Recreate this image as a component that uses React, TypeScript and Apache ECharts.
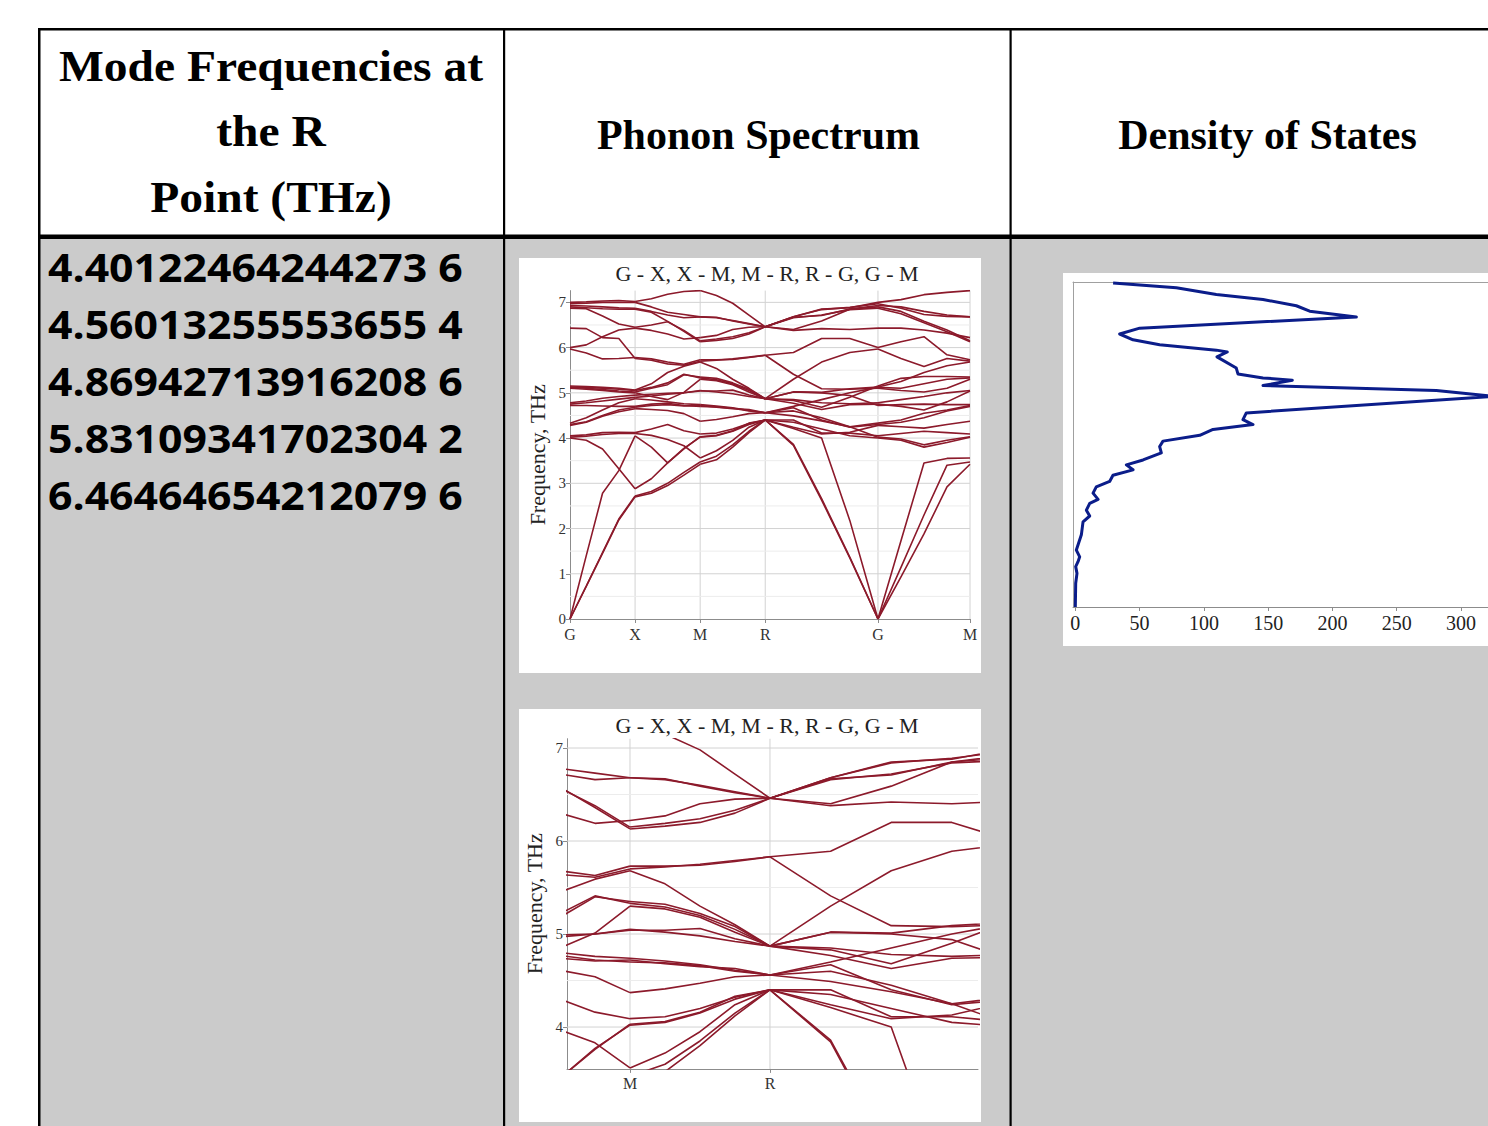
import React, { useEffect, useRef } from "react";
import * as echarts from "echarts";

// ---------- table texts ----------
const HEADER_COL1 = ["Mode Frequencies at", "the R", "Point (THz)"];
const HEADER_COL2 = "Phonon Spectrum";
const HEADER_COL3 = "Density of States";
const MODE_FREQS = ["4.40122464244273", "4.56013255553655", "4.86942713916208", "5.83109341702304", "6.46464654212079"];
const MODE_DEGEN = [6, 4, 6, 2, 6];
const PATH_TITLE = "G - X, X - M, M - R, R - G, G - M";

// ---------- k-path (2π/a units) ----------
const KX = [0, 0.125, 0.25, 0.375, 0.5, 0.625, 0.75, 0.875, 1.0, 1.125, 1.25, 1.375, 1.5, 1.7165, 1.933, 2.1495, 2.366, 2.5428, 2.7196, 2.8963, 3.0731];
const SYM_IDX = [0, 4, 8, 12, 16, 20];
const SYM_LABELS = ["G", "X", "M", "R", "G", "M"];

// ---------- phonon bands, per path segment (THz), 5 k-points each ----------
const GX_BANDS = [
  [0, 0.72, 1.45, 2.19, 2.7], [0, 0.73, 1.47, 2.21, 2.72], [0, 1.4, 2.78, 3.28, 4.05], [4.0, 3.95, 3.76, 3.32, 2.88],
  [4.02, 4.04, 4.08, 4.1, 4.1], [4.05, 4.07, 4.12, 4.13, 4.12], [4.28, 4.35, 4.48, 4.58, 4.65], [4.3, 4.36, 4.5, 4.62, 4.68],
  [4.33, 4.45, 4.62, 4.78, 4.87], [4.72, 4.72, 4.71, 4.7, 4.7], [4.75, 4.78, 4.82, 4.86, 4.9], [4.78, 4.82, 4.88, 4.92, 4.95],
  [5.1, 5.08, 5.05, 5.02, 5.0], [5.12, 5.1, 5.07, 5.04, 5.02], [5.13, 5.12, 5.1, 5.08, 5.05], [5.15, 5.14, 5.12, 5.1, 5.06],
  [5.97, 5.88, 5.75, 5.76, 5.78], [6.0, 6.06, 6.24, 6.39, 6.43], [6.43, 6.42, 6.22, 6.2, 5.76], [6.87, 6.86, 6.7, 6.52, 6.45],
  [6.9, 6.88, 6.86, 6.85, 6.85], [6.93, 6.92, 6.9, 6.88, 6.87], [6.97, 6.98, 7.0, 7.0, 7.0], [7.0, 7.01, 7.03, 7.04, 7.02],
];
const XM_BANDS = [
  [7.02, 7.08, 7.18, 7.24, 7.26], [7.0, 6.9, 6.78, 6.73, 6.68], [6.87, 6.8, 6.72, 6.66, 6.68], [6.85, 6.78, 6.58, 6.36, 6.13],
  [6.45, 6.5, 6.57, 6.38, 6.15], [6.43, 6.38, 6.3, 6.19, 6.22], [5.78, 5.75, 5.68, 5.63, 5.73], [5.76, 5.72, 5.64, 5.61, 5.7],
  [5.06, 5.2, 5.45, 5.59, 5.68], [5.05, 5.12, 5.22, 5.41, 5.33], [5.02, 5.1, 5.18, 5.4, 5.35], [5.0, 4.92, 4.85, 5.01, 5.3],
  [4.95, 4.97, 4.99, 5.0, 5.04], [4.9, 4.93, 4.97, 5.0, 5.05], [4.87, 4.84, 4.8, 4.76, 4.74], [4.7, 4.75, 4.77, 4.72, 4.7],
  [4.68, 4.72, 4.74, 4.71, 4.72], [4.65, 4.63, 4.61, 4.54, 4.37], [4.12, 4.2, 4.3, 4.16, 4.09], [4.1, 4.06, 3.97, 3.83, 3.56],
  [4.05, 3.8, 3.45, 3.76, 4.03], [2.88, 3.1, 3.45, 3.77, 4.02], [2.72, 2.82, 3.0, 3.24, 3.47], [2.7, 2.78, 2.95, 3.18, 3.42],
];
const MR_BANDS = [
  [7.26, 7.15, 6.98, 6.72, 6.46], [6.68, 6.67, 6.59, 6.52, 6.46], [6.68, 6.66, 6.6, 6.53, 6.46], [6.13, 6.16, 6.2, 6.3, 6.46],
  [6.15, 6.19, 6.24, 6.33, 6.46], [6.22, 6.27, 6.4, 6.45, 6.46], [5.73, 5.73, 5.74, 5.78, 5.83], [5.7, 5.72, 5.75, 5.79, 5.83],
  [5.68, 5.54, 5.3, 5.1, 4.87], [5.33, 5.29, 5.2, 5.05, 4.87], [5.35, 5.32, 5.22, 5.08, 4.87], [5.3, 5.27, 5.18, 5.02, 4.87],
  [5.04, 5.04, 5.06, 4.95, 4.87], [5.05, 5.02, 4.98, 4.92, 4.87], [4.74, 4.71, 4.67, 4.61, 4.56], [4.7, 4.69, 4.66, 4.6, 4.56],
  [4.72, 4.68, 4.65, 4.63, 4.56], [4.37, 4.41, 4.47, 4.54, 4.56], [4.09, 4.11, 4.2, 4.32, 4.4], [3.56, 3.72, 3.95, 4.24, 4.4],
  [4.03, 4.06, 4.16, 4.33, 4.4], [4.02, 4.05, 4.15, 4.3, 4.4], [3.47, 3.6, 3.85, 4.15, 4.4], [3.42, 3.52, 3.8, 4.12, 4.4],
];
const RG_BANDS = [
  [6.46, 6.68, 6.85, 6.88, 7.0], [6.46, 6.67, 6.71, 6.85, 6.93], [6.46, 6.4, 6.59, 6.85, 6.9], [6.46, 6.38, 6.42, 6.4, 6.43],
  [6.46, 6.68, 6.84, 6.89, 6.97], [6.46, 6.66, 6.72, 6.84, 6.87], [5.83, 5.89, 6.2, 6.2, 6.0], [5.83, 5.41, 5.09, 5.08, 5.1],
  [4.87, 5.3, 5.68, 5.89, 5.97], [4.87, 5.02, 5.01, 5.09, 5.13], [4.87, 4.83, 4.68, 4.9, 5.15], [4.87, 5.02, 5.0, 4.94, 4.72],
  [4.87, 4.77, 4.63, 4.74, 4.75], [4.87, 4.85, 4.78, 4.76, 4.78], [4.56, 4.67, 4.4, 4.24, 4.3], [4.56, 4.49, 4.38, 4.25, 4.33],
  [4.56, 4.6, 4.45, 4.25, 4.02], [4.56, 4.7, 4.85, 5.0, 5.12], [4.4, 4.4, 4.11, 4.11, 4.05], [4.4, 4.24, 4.09, 4.13, 4.28],
  [4.4, 4.21, 4.0, 2.18, 0], [4.4, 3.84, 2.63, 1.35, 0], [4.4, 3.86, 2.66, 1.37, 0], [4.4, 4.35, 4.2, 4.05, 4.0],
];
const GM_BANDS = [
  [7.0, 7.06, 7.17, 7.22, 7.26], [6.97, 6.87, 6.73, 6.69, 6.68], [6.93, 6.9, 6.8, 6.72, 6.68], [6.9, 6.8, 6.58, 6.39, 6.15],
  [6.87, 6.75, 6.55, 6.35, 6.13], [6.43, 6.43, 6.39, 6.32, 6.22], [6.0, 6.13, 6.24, 5.84, 5.73], [5.97, 5.76, 5.58, 5.76, 5.7],
  [5.15, 5.32, 5.36, 5.36, 5.35], [5.13, 5.25, 5.45, 5.6, 5.68], [5.12, 5.1, 5.2, 5.3, 5.33], [5.1, 5.05, 5.02, 5.1, 5.3],
  [4.78, 4.85, 4.92, 5.0, 5.05], [4.75, 4.7, 4.62, 4.8, 5.04], [4.72, 4.74, 4.75, 4.74, 4.74], [4.33, 4.4, 4.55, 4.62, 4.72],
  [4.3, 4.35, 4.45, 4.6, 4.7], [4.28, 4.25, 4.22, 4.3, 4.37], [4.05, 4.1, 4.15, 4.12, 4.09], [4.02, 3.98, 3.85, 3.95, 4.03],
  [4.0, 3.95, 3.8, 3.9, 4.02], [0, 1.73, 3.45, 3.55, 3.56], [0, 1.14, 2.3, 3.4, 3.47], [0, 0.93, 1.88, 2.92, 3.42],
];
const SEGMENTS = [GX_BANDS, XM_BANDS, MR_BANDS, RG_BANDS, GM_BANDS];

// ---------- axis ranges / ticks ----------
const FULL_Y_MAX = 7.26;
const FULL_Y_TICKS = [0, 1, 2, 3, 4, 5, 6, 7];
const FULL_Y_MINOR = [0.5, 1.5, 2.5, 3.5, 4.5, 5.5, 6.5];
const ZOOM_X_RANGE = [0.775, 2.243];
const ZOOM_Y_RANGE = [3.55, 7.1];
const ZOOM_Y_TICKS = [4, 5, 6, 7];
const ZOOM_Y_MINOR = [4.5, 5.5, 6.5];
const ZOOM_X_SYM = [1.0, 1.5];
const ZOOM_X_LABELS = ["M", "R"];

// ---------- density of states ----------
const DOS_STATES = [29.4, 78.6, 109.7, 146, 171.9, 182.3, 218.6, 50.1, 34.5, 44.9, 65.6, 109.7, 118.2, 110.2, 125.2, 126.5, 146, 168.8, 146, 280.8, 325, 133, 130.4, 138.2, 107.1, 96.8, 68.2, 65.6, 66.9, 52.7, 39.7, 44.9, 29.3, 26.7, 16.3, 13.8, 17.7, 11.2, 8.6, 11.2, 6.0, 4.7, 0.8, 3.4, 2.1, 0.3, 1.3, 0.3, 0];
const DOS_FREQ = [7.23, 7.12, 6.97, 6.86, 6.72, 6.6, 6.47, 6.22, 6.09, 5.96, 5.85, 5.73, 5.69, 5.58, 5.33, 5.2, 5.11, 5.06, 4.94, 4.83, 4.7, 4.33, 4.18, 4.07, 3.96, 3.83, 3.7, 3.58, 3.44, 3.28, 3.17, 3.06, 2.94, 2.8, 2.68, 2.54, 2.4, 2.31, 2.16, 2.03, 1.9, 1.61, 1.27, 1.12, 1.01, 0.9, 0.75, 0.53, 0];
const DOS_X_TICKS = [0, 50, 100, 150, 200, 250, 300];
const DOS_X_RANGE = [-1.8, 321];
const DOS_Y_MAX = 7.25;

// ---------- styles ----------
const SERIF = "Liberation Serif";
const BAND_COLOR = "#8c1a2b";
const DOS_COLOR = "#0b1d8a";
const AXIS_COLOR = "#8c8c8c";
const GRID_MAJOR = "#d2d2d2";
const GRID_MINOR = "#ececec";
const CELL_GRAY = "#cbcbcb";

function guide(axis: number, data: number[][], color: string) {
  return {
    type: "line", xAxisIndex: axis, yAxisIndex: axis, data, symbol: "none", silent: true, z: 1,
    lineStyle: { color, width: 1 }, emphasis: { disabled: true },
  };
}

function bandSeries(axis: number) {
  const out: any[] = [];
  SEGMENTS.forEach((seg, s) => {
    seg.forEach((row) => {
      out.push({
        type: "line", xAxisIndex: axis, yAxisIndex: axis,
        data: row.map((f, j) => [KX[s * 4 + j], f]),
        symbol: "none", silent: true, clip: true, z: 3,
        lineStyle: { color: BAND_COLOR, width: 1.6 }, emphasis: { disabled: true },
      });
    });
  });
  return out;
}

function buildOption() {
  const symX = SYM_IDX.map((i) => KX[i]);
  const xMax = KX[KX.length - 1];
  const labelOf = (vals: number[], names: string[]) => (v: number) => {
    const i = vals.findIndex((s) => Math.abs(s - v) < 1e-6);
    return i >= 0 ? names[i] : "";
  };

  const series: any[] = [];
  symX.slice(1).forEach((v) => series.push(guide(0, [[v, 0], [v, FULL_Y_MAX]], GRID_MAJOR)));
  FULL_Y_MINOR.forEach((v) => series.push(guide(0, [[0, v], [xMax, v]], GRID_MINOR)));
  FULL_Y_TICKS.slice(1).forEach((v) => series.push(guide(0, [[0, v], [xMax, v]], GRID_MAJOR)));
  ZOOM_X_SYM.forEach((v) => series.push(guide(1, [[v, ZOOM_Y_RANGE[0]], [v, ZOOM_Y_RANGE[1]]], GRID_MAJOR)));
  ZOOM_Y_MINOR.forEach((v) => series.push(guide(1, [[ZOOM_X_RANGE[0], v], [ZOOM_X_RANGE[1], v]], GRID_MINOR)));
  ZOOM_Y_TICKS.forEach((v) => series.push(guide(1, [[ZOOM_X_RANGE[0], v], [ZOOM_X_RANGE[1], v]], GRID_MAJOR)));
  series.push(...bandSeries(0), ...bandSeries(1));
  series.push({
    type: "line", xAxisIndex: 2, yAxisIndex: 2, symbol: "none", silent: true, z: 3, clip: true,
    data: DOS_STATES.map((d, i) => [d, DOS_FREQ[i]]),
    lineStyle: { color: DOS_COLOR, width: 3, join: "round" }, emphasis: { disabled: true },
  });

  const axisLine = { show: true, onZero: false, lineStyle: { color: AXIS_COLOR, width: 1 } };
  const tickStyle = { color: AXIS_COLOR, width: 1 };
  const yName = {
    name: "Frequency, THz", nameLocation: "middle", nameRotate: 90, nameGap: 22,
    nameTextStyle: { fontFamily: SERIF, fontSize: 22, color: "#222" },
  };

  const xAxis: any[] = [
    {
      gridIndex: 0, type: "value", min: 0, max: xMax, axisLine, splitLine: { show: false },
      axisTick: { show: true, customValues: symX, length: 4, lineStyle: tickStyle },
      axisLabel: { customValues: symX, formatter: labelOf(symX, SYM_LABELS), fontFamily: SERIF, fontSize: 16, color: "#333", margin: 7 },
    },
    {
      gridIndex: 1, type: "value", min: ZOOM_X_RANGE[0], max: ZOOM_X_RANGE[1], axisLine, splitLine: { show: false },
      axisTick: { show: true, customValues: ZOOM_X_SYM, length: 4, lineStyle: tickStyle },
      axisLabel: { customValues: ZOOM_X_SYM, formatter: labelOf(ZOOM_X_SYM, ZOOM_X_LABELS), fontFamily: SERIF, fontSize: 16, color: "#333", margin: 7 },
    },
    {
      gridIndex: 2, type: "value", min: DOS_X_RANGE[0], max: DOS_X_RANGE[1], axisLine, splitLine: { show: false },
      axisTick: { show: true, customValues: DOS_X_TICKS, length: 4, lineStyle: tickStyle },
      axisLabel: { customValues: DOS_X_TICKS, fontFamily: SERIF, fontSize: 20, color: "#222", margin: 6 },
    },
    {
      // top frame line of the DOS panel
      gridIndex: 2, type: "value", position: "top", min: DOS_X_RANGE[0], max: DOS_X_RANGE[1],
      axisLine: { show: true, onZero: false, lineStyle: { color: "#a0a0a0", width: 1 } },
      axisTick: { show: false }, axisLabel: { show: false }, splitLine: { show: false },
    },
  ];
  const yAxis: any[] = [
    {
      gridIndex: 0, type: "value", min: 0, max: FULL_Y_MAX, axisLine, splitLine: { show: false }, ...yName,
      axisTick: { show: true, customValues: FULL_Y_TICKS, length: 4, lineStyle: tickStyle },
      axisLabel: { customValues: FULL_Y_TICKS, fontFamily: SERIF, fontSize: 15, color: "#333", margin: 4 },
    },
    {
      gridIndex: 1, type: "value", min: ZOOM_Y_RANGE[0], max: ZOOM_Y_RANGE[1], axisLine, splitLine: { show: false }, ...yName,
      axisTick: { show: true, customValues: ZOOM_Y_TICKS, length: 4, lineStyle: tickStyle },
      axisLabel: { customValues: ZOOM_Y_TICKS, fontFamily: SERIF, fontSize: 15, color: "#333", margin: 4 },
    },
    {
      gridIndex: 2, type: "value", min: 0, max: DOS_Y_MAX, splitLine: { show: false },
      axisLine: { show: true, onZero: false, lineStyle: { color: "#a0a0a0", width: 1 } },
      axisTick: { show: false }, axisLabel: { show: false },
    },
  ];

  const grid = [
    { left: 570, top: 290.6, width: 400, height: 328.4 },
    { left: 567, top: 738.7, width: 411, height: 330.2 },
    { left: 1073, top: 282, width: 415, height: 325 },
  ];

  const rect = (x: number, y: number, w: number, h: number, fill: string, z: number) => ({
    type: "rect", shape: { x, y, width: w, height: h }, style: { fill }, z, silent: true,
  });
  const text = (t: string, x: number, y: number, font: string, align: string, scaleX = 1, fill = "#000") => ({
    type: "text", x, y, scaleX, z: 20, silent: true,
    style: { text: t, fill, font, align, verticalAlign: "middle", textAlign: align, textVerticalAlign: "middle" },
  });

  const elements: any[] = [
    rect(40, 238, 1448, 888, CELL_GRAY, -10),
    rect(519, 258, 462, 415, "#ffffff", -5),
    rect(519, 709, 462, 413, "#ffffff", -5),
    rect(1063, 273, 430, 373, "#ffffff", -5),
    rect(38, 28, 1450, 2.5, "#000", 15),
    rect(38, 28, 2.5, 1098, "#000", 15),
    rect(503, 28, 2.2, 1098, "#000", 15),
    rect(1009.5, 28, 2.2, 1098, "#000", 15),
    rect(38, 234.5, 1450, 4.5, "#000", 15),
  ];
  const col1Y = [66.4, 131.4, 197.4];
  HEADER_COL1.forEach((t, i) => elements.push(text(t, 271, col1Y[i], `bold 44px "${SERIF}"`, "center", 1.08)));
  elements.push(text(HEADER_COL2, 758.5, 135, `bold 42px "${SERIF}"`, "center"));
  elements.push(text(HEADER_COL3, 1267.5, 135, `bold 42px "${SERIF}"`, "center"));
  MODE_FREQS.forEach((f, i) =>
    elements.push(text(`${f} ${MODE_DEGEN[i]}`, 48, 266.2 + i * 57.1, `bold 40px "Open Sans"`, "left", 1.07))
  );
  elements.push(text(PATH_TITLE, 767, 273.6, `22px "${SERIF}"`, "center", 1, "#222"));
  elements.push(text(PATH_TITLE, 767, 725, `22px "${SERIF}"`, "center", 1, "#222"));

  return {
    animation: false,
    backgroundColor: "#ffffff",
    textStyle: { fontFamily: SERIF },
    grid, xAxis, yAxis, series,
    graphic: { elements },
  };
}

export default function App() {
  const ref = useRef<HTMLDivElement>(null);
  useEffect(() => {
    if (!ref.current) return;
    const chart = echarts.init(ref.current, undefined, { renderer: "svg", width: 1488, height: 1126 });
    chart.setOption(buildOption() as any);
    return () => chart.dispose();
  }, []);
  return (
    <div
      ref={ref}
      style={{ position: "absolute", left: 0, top: 0, width: 1488, height: 1126, overflow: "hidden", background: "#fff" }}
    />
  );
}
